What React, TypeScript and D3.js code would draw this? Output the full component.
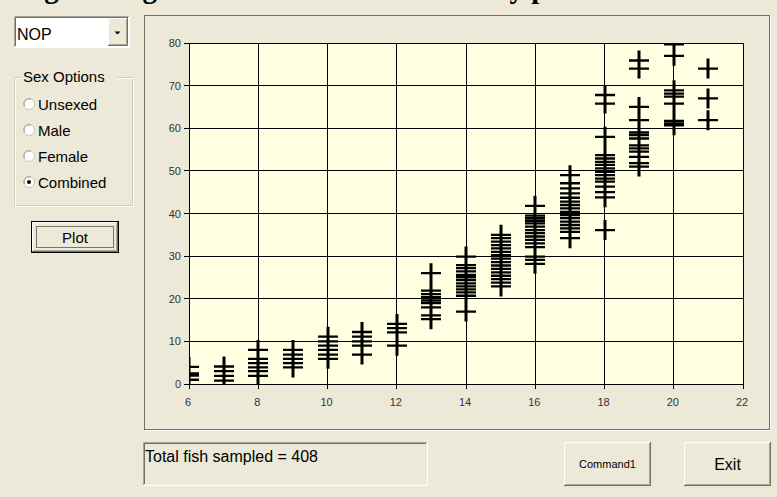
import React from "react";
import * as d3 from "d3";

const lengths = [6, 7, 8, 9, 10, 11, 12, 13, 14, 15, 16, 17, 18, 19, 20, 21];
const weights6 = [1, 2, 2.5, 4];
const weights7 = [0.8, 1.9, 3, 4.1];
const weights8 = [1.9, 3, 3.9, 4.9, 5.9, 8];
const weights9 = [3.9, 4.9, 5.9, 6.9, 8];
const weights10 = [5.9, 6.9, 8, 9, 10, 11.1];
const weights11 = [6.9, 9, 10, 11.1, 12.2];
const weights12 = [9, 12.1, 13.1, 14.1];
const weights13 = [15.2, 16.1, 18, 19, 19.6, 20.4, 21.1, 21.9, 26];
const weights14 = [17, 20.7, 21.5, 22.2, 22.9, 23.6, 24.4, 25.1, 25.6, 26.4, 27.2, 27.9, 29.9];
const weights15 = [22.9, 23.8, 24.6, 25.4, 26.2, 27, 27.8, 28.6, 29.4, 30.2, 31, 31.8, 32.6, 33.4, 34.2, 35];
const weights16 = [28.2, 29.1, 29.9, 32.1, 33, 33.8, 34.6, 35.4, 36.1, 36.9, 37.7, 38.3, 38.9, 39.5, 41.8];
const weights17 = [34.2, 35.7, 36.5, 37.3, 38.1, 38.9, 39.6, 40.4, 41.2, 42, 42.8, 43.7, 44.7, 45.9, 47.1, 49];
const weights18 = [36.1, 43.8, 45, 46.3, 47.5, 48.2, 49, 49.8, 50.6, 51.4, 52.1, 52.9, 53.7, 58, 65.8, 67.8];
const weights19 = [51, 51.8, 53.3, 54.5, 55.3, 56, 57.6, 58.4, 59, 61.9, 65, 74, 75.9];
const weights20 = [60.7, 61.1, 61.7, 65.8, 67.4, 68.1, 68.9, 77, 79.7];
const weights21 = [61.9, 67, 74];
const weightsByLength = [
  weights6, weights7, weights8, weights9, weights10, weights11, weights12, weights13,
  weights14, weights15, weights16, weights17, weights18, weights19, weights20, weights21,
];
const xTicks = [6, 8, 10, 12, 14, 16, 18, 20, 22];
const yTicks = [0, 10, 20, 30, 40, 50, 60, 70, 80];
const speciesLabel = "NOP";
const sexOptions = ["Unsexed", "Male", "Female", "Combined"];
const selectedSex = "Combined";
const totalLabel = "Total fish sampled = 408";
const titleText = "Length-Weight Data for All Fish Sorted by pond";

const FACE = "#ECE9D8";
const HI = "#FFFFFF";
const SH = "#ACA899";
const DK = "#716F64";
const UI_FONT = "'Liberation Sans', Arial, sans-serif";

function Raised({ x, y, w, h }: { x: number; y: number; w: number; h: number }) {
  return (
    <g>
      <rect x={x} y={y} width={w} height={h} fill={FACE} />
      <path d={`M${x + 0.5},${y + h - 1}V${y + 0.5}H${x + w - 1}`} stroke={HI} fill="none" />
      <path d={`M${x},${y + h - 0.5}H${x + w - 0.5}V${y}`} stroke={DK} fill="none" />
      <path d={`M${x + 1},${y + h - 1.5}H${x + w - 1.5}V${y + 1}`} stroke={SH} fill="none" />
    </g>
  );
}

function Sunken({ x, y, w, h, fill = FACE }: { x: number; y: number; w: number; h: number; fill?: string }) {
  return (
    <g>
      <rect x={x} y={y} width={w} height={h} fill={fill} />
      <path d={`M${x + 0.5},${y + h - 1}V${y + 0.5}H${x + w - 1}`} stroke={SH} fill="none" />
      <path d={`M${x + 1.5},${y + h - 2}V${y + 1.5}H${x + w - 2}`} stroke={DK} fill="none" />
      <path d={`M${x},${y + h - 0.5}H${x + w - 0.5}V${y}`} stroke={HI} fill="none" />
    </g>
  );
}

export default function App() {
  const x = d3.scaleLinear().domain([6, 22]).range([189, 743]);
  const y = d3.scaleLinear().domain([0, 80]).range([384, 43]);
  const [x0, x1] = x.range();
  const [y0, y1] = y.range();

  const points: { l: number; w: number }[] = [];
  lengths.forEach((l, i) => weightsByLength[i].forEach((w) => points.push({ l, w })));

  const hPath = points
    .map((p) => {
      const cx = Math.round(x(p.l));
      const cy = y(p.w);
      return `M${cx - 10},${cy}H${cx + 10}`;
    })
    .join("");
  const vPath = points
    .map((p) => {
      const cx = Math.round(x(p.l));
      const cy = y(p.w);
      return `M${cx},${cy - 10}V${cy + 10}`;
    })
    .join("");

  const radioY = [104, 130, 156, 182];

  return (
    <svg
      width={777}
      height={497}
      style={{ position: "absolute", left: 0, top: 0, display: "block" }}
      xmlns="http://www.w3.org/2000/svg"
    >
      <defs>
        <clipPath id="plotClip">
          <rect x={x0} y={y1} width={x1 - x0} height={y0 - y1} />
        </clipPath>
      </defs>
      <rect x={0} y={0} width={777} height={497} fill={FACE} />

      {/* clipped title */}
      <text
        x={-4}
        y={-2}
        fontFamily="'Liberation Serif', 'Times New Roman', serif"
        fontWeight="bold"
        fontSize={29}
        fill="#000"
      >
        {titleText}
      </text>

      {/* combo box */}
      <Sunken x={14} y={16} w={116} h={32} fill="#FFFFFF" />
      <text x={17} y={40} fontFamily={UI_FONT} fontSize={16} fill="#000">
        {speciesLabel}
      </text>
      <Raised x={108} y={18} w={20} h={28} />
      <path d="M114.5,31.5h6l-3,3z" fill="#000" />

      {/* group box */}
      <rect x={14.5} y={77.5} width={118} height={128} fill="none" stroke="#D0D0BF" />
      <rect x={15.5} y={78.5} width={118} height={128} fill="none" stroke={HI} opacity={0.8} />
      <rect x={21} y={68} width={96} height={18} fill={FACE} />
      <text x={23} y={82} fontFamily={UI_FONT} fontSize={15} fill="#000">
        Sex Options
      </text>
      {sexOptions.map((s, i) => (
        <g key={s}>
          <circle cx={29} cy={radioY[i]} r={5.5} fill="#FFFFFF" stroke="#C9C6B8" />
          <path
            d={`M${24.5},${radioY[i] + 2} A5,5 0 0 1 ${31},${radioY[i] - 4.8}`}
            stroke="#9d9a8c"
            fill="none"
          />
          {s === selectedSex && <circle cx={29} cy={radioY[i]} r={2} fill="#000" />}
          <text x={38} y={radioY[i] + 5.5} fontFamily={UI_FONT} fontSize={15} fill="#000">
            {s}
          </text>
        </g>
      ))}

      {/* Plot button */}
      <rect x={31.5} y={221.5} width={87} height={31} fill="none" stroke="#000" />
      <Raised x={32} y={222} w={86} h={30} />
      <rect x={36.5} y={226.5} width={77} height={21} fill="none" stroke="#000" strokeDasharray="1,1" />
      <text x={75} y={243} textAnchor="middle" fontFamily={UI_FONT} fontSize={15} fill="#000">
        Plot
      </text>

      {/* graph frame */}
      <rect x={144.5} y={15.5} width={625} height={414} fill="none" stroke={DK} />
      <path d="M145,430.5H770.5V15" stroke={HI} fill="none" />

      {/* plot area */}
      <rect x={x0} y={y1} width={x1 - x0} height={y0 - y1} fill="#FFFFE1" />
      <g stroke="#000" strokeWidth={1} shapeRendering="crispEdges">
        {xTicks.map((t) => (
          <line key={"gx" + t} x1={x(t)} x2={x(t)} y1={y1} y2={y0 + 5} />
        ))}
        {yTicks.map((t) => (
          <line key={"gy" + t} x1={x0 - 5} x2={x1} y1={y(t)} y2={y(t)} />
        ))}
        <rect x={x0} y={y1} width={x1 - x0} height={y0 - y1} fill="none" />
      </g>
      <g fontFamily={UI_FONT} fontSize={11} fill="#333">
        {yTicks.map((t) => (
          <text key={"ly" + t} x={x0 - 8} y={y(t) + 4} textAnchor="end">
            {t}
          </text>
        ))}
        {xTicks.map((t) => (
          <text key={"lx" + t} x={x(t) - 1} y={406} textAnchor="middle">
            {t}
          </text>
        ))}
      </g>
      <g clipPath="url(#plotClip)" fill="none" stroke="#000">
        <path d={hPath} strokeWidth={2.3} />
        <path d={vPath} strokeWidth={3} />
      </g>

      {/* status box */}
      <Sunken x={143} y={442} w={285} h={44} />
      <text x={145} y={462} fontFamily={UI_FONT} fontSize={16} fill="#000">
        {totalLabel}
      </text>

      {/* Command1 button */}
      <Raised x={564} y={442} w={87} h={44} />
      <text x={607.5} y={468} textAnchor="middle" fontFamily={UI_FONT} fontSize={11} fill="#000">
        Command1
      </text>

      {/* Exit button */}
      <Raised x={684} y={442} w={87} h={44} />
      <text x={727.5} y={470} textAnchor="middle" fontFamily={UI_FONT} fontSize={16} fill="#000">
        Exit
      </text>
    </svg>
  );
}
